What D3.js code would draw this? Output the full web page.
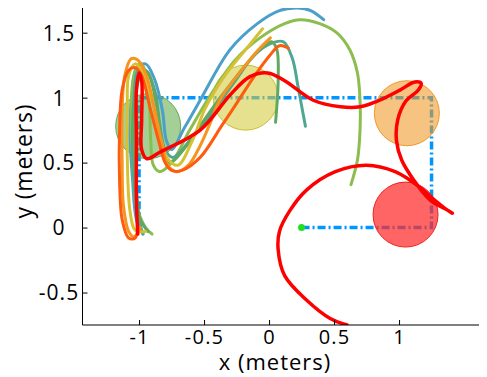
<!DOCTYPE html>
<html>
<head>
<meta charset="utf-8">
<script src="https://cdn.jsdelivr.net/npm/d3@7"></script>
<style>
body{margin:0;background:#fff;}
text{font-family:"Open Sans",sans-serif;fill:#000;}
</style>
</head>
<body>
<script>
// tick values on both axes
var xTicks = [-1, -0.5, 0, 0.5, 1];
var yTicks = [-0.5, 0, 0.5, 1, 1.5];

// reference route (dash-dot), starts at the green dot
var routeX = [0.25, 1.25, 1.25, -1, -1];
var routeY = [0, 0, 1, 1, 0];

// obstacles / targets
var circX = [-0.93, -0.18, 1.06, 1.05];
var circY = [0.78, 1.0, 0.88, 0.10];
var circR = [0.25, 0.25, 0.25, 0.25];
var circFill = ["#62ad4a", "#d2cc3c", "#f09a25", "#ff2a2a"];
var circEdge = ["#6aa84f", "#c9c030", "#ec9a2a", "#ee2020"];

// trajectories, drawn in this order
var trajColors = ["#4b9fc9", "#8cbd4f", "#4fa792", "#62a862", "#d6c132", "#f7941d", "#ff5b0f", "#ff0000"];

var blueX = [-0.97,-1.02,-1.05,-1.07,-1.05,-1.02,-0.95,-0.88,-0.82,-0.79,-0.75,-0.65,-0.53,-0.30,-0.09,0.08,0.22,0.32,0.42];
var blueY = [-0.05,0.06,0.37,0.75,1.06,1.23,1.26,1.14,0.90,0.67,0.60,0.77,0.98,1.37,1.57,1.67,1.69,1.67,1.60];

var lgreenX = [-0.90,-0.95,-1.02,-1.05,-1.06,-1.04,-0.99,-0.95,-0.92,-0.91,-0.89,-0.84,-0.75,-0.61,-0.45,-0.26,-0.07,0.12,0.24,0.39,0.52,0.62,0.68,0.70,0.70,0.68,0.63];
var lgreenY = [-0.05,0.00,0.17,0.52,0.90,1.17,1.26,1.20,0.94,0.67,0.48,0.43,0.50,0.75,1.02,1.29,1.46,1.57,1.60,1.57,1.50,1.37,1.19,0.98,0.75,0.52,0.33];

var tealX = [-0.97,-0.99,-1.03,-1.05,-1.04,-1.01,-0.95,-0.88,-0.84,-0.80,-0.74,-0.61,-0.45,-0.26,-0.11,0.02,0.11,0.18,0.22,0.25,0.28];
var tealY = [-0.05,0.02,0.25,0.60,0.98,1.20,1.21,1.06,0.79,0.60,0.54,0.67,0.87,1.13,1.33,1.42,1.43,1.30,1.10,0.94,0.78];

var greenX = [-0.93,-0.99,-1.02,-1.04,-1.03,-0.99,-0.94,-0.88,-0.84,-0.82,-0.76,-0.65,-0.49,-0.39,-0.18,-0.05,0.02,0.06,0.07,0.05];
var greenY = [-0.03,0.06,0.29,0.67,0.98,1.17,1.20,1.02,0.75,0.56,0.50,0.61,0.84,0.98,1.25,1.39,1.43,1.37,1.13,0.81];

var yellowX = [-0.95,-1.03,-1.07,-1.09,-1.09,-1.08,-1.03,-0.98,-0.90,-0.84,-0.78,-0.70,-0.59,-0.49,-0.34,-0.18,-0.05];
var yellowY = [-0.03,-0.02,0.13,0.52,0.90,1.17,1.26,1.21,0.98,0.71,0.53,0.48,0.67,0.92,1.17,1.37,1.53];

var orangeX = [-0.99,-1.04,-1.08,-1.12,-1.13,-1.13,-1.11,-1.06,-1.01,-0.94,-0.88,-0.82,-0.78,-0.71,-0.62,-0.53,-0.45,-0.38,-0.22,-0.08,0.01];
var orangeY = [0.00,-0.07,-0.03,0.17,0.52,0.90,1.17,1.30,1.29,1.16,0.90,0.63,0.48,0.43,0.48,0.63,0.81,0.98,1.20,1.37,1.46];

var oredX = [-1.01,-1.03,-1.08,-1.13,-1.15,-1.15,-1.13,-1.08,-1.03,-0.98,-0.92,-0.85,-0.80,-0.75,-0.67,-0.53,-0.36,-0.26,-0.11,0.01,0.08,0.15];
var oredY = [0.00,-0.08,-0.08,0.06,0.37,0.75,1.06,1.21,1.23,1.17,0.94,0.67,0.50,0.44,0.44,0.54,0.79,0.94,1.17,1.33,1.40,1.38];

var redX = [-1.01,-1.02,-1.02,-1.02,-1.00,-0.98,-0.98,-0.98,-0.94,-0.84,-0.53,-0.30,-0.15,-0.01,0.12,0.34,0.55,0.70,0.85,1.01,1.12,1.17,1.15,1.05,0.99,0.98,1.02,1.11,1.24,1.38,1.41,1.35,1.25,1.16,0.97,0.75,0.51,0.29,0.16,0.08,0.07,0.12,0.29,0.47,0.60];
var redY = [-0.05,0.21,0.67,1.06,1.19,1.13,0.83,0.60,0.53,0.58,0.75,1.02,1.16,1.19,1.13,0.98,0.93,0.93,0.98,1.06,1.12,1.11,1.06,0.97,0.83,0.67,0.52,0.37,0.21,0.13,0.11,0.15,0.23,0.31,0.43,0.48,0.43,0.29,0.13,-0.03,-0.17,-0.37,-0.56,-0.70,-0.75];

var trajX = [blueX, lgreenX, tealX, greenX, yellowX, orangeX, oredX, redX];
var trajY = [blueY, lgreenY, tealY, greenY, yellowY, orangeY, oredY, redY];
var trajW = [3, 3, 3, 3, 3, 3, 3, 3.5];

var startX = 0.25, startY = 0;

var W = 487, H = 377;
var pLeft = 82.5, pRight = 479, pTop = 8, pBottom = 325;//plot box in pixels

var svg = d3.select("body").append("svg")
    .attr("width", W)
    .attr("height", H);

var xScale = d3.scaleLinear().domain([-1.435, 1.615]).range([pLeft, pRight]);
var yScale = d3.scaleLinear().domain([-0.75, 1.69]).range([pBottom, pTop]);

svg.append("clipPath").attr("id", "plotclip")
    .append("rect").attr("x", pLeft).attr("y", pTop)
    .attr("width", pRight - pLeft).attr("height", pBottom - pTop);

var plot = svg.append("g").attr("clip-path", "url(#plotclip)");

function pts(xs, ys){//zip two arrays into points
    var out = [];
    for(var i = 0; i < xs.length; i++) out.push([xs[i], ys[i]]);
    return out;
}

var straight = d3.line().x(function(d){return xScale(d[0]);}).y(function(d){return yScale(d[1]);});
var smooth = d3.line().x(function(d){return xScale(d[0]);}).y(function(d){return yScale(d[1]);})
    .curve(d3.curveCatmullRom.alpha(0.5));

// route
plot.append("path")
    .attr("d", straight(pts(routeX, routeY)))
    .attr("fill", "none")
    .attr("stroke", "#0096ff")
    .attr("stroke-width", 3.5)
    .attr("stroke-dasharray", "8,3,2,3");

// circles over the route
for(var c = 0; c < circX.length; c++){
    plot.append("circle")
        .attr("cx", xScale(circX[c]))
        .attr("cy", yScale(circY[c]))
        .attr("r", xScale(circR[c]) - xScale(0))
        .attr("fill", circFill[c])
        .attr("fill-opacity", c == 3 ? 0.72 : 0.58)
        .attr("stroke", circEdge[c])
        .attr("stroke-width", 1);
}

// trajectories
for(var t = 0; t < trajX.length; t++){
    plot.append("path")
        .attr("d", smooth(pts(trajX[t], trajY[t])))
        .attr("fill", "none")
        .attr("stroke", trajColors[t])
        .attr("stroke-width", trajW[t])
        .attr("stroke-linecap", "round")
        .attr("stroke-linejoin", "round");
}

// start dot
plot.append("circle")
    .attr("cx", xScale(startX))
    .attr("cy", yScale(startY))
    .attr("r", 3.5)
    .attr("fill", "#22dd22");

// axes, ticks pointing inward
var fmt = function(d){ return String(d); };
var xAxis = d3.axisTop(xScale).tickValues(xTicks).tickSize(5).tickFormat(fmt);
var yAxis = d3.axisRight(yScale).tickValues(yTicks).tickSize(5).tickFormat(fmt);

var gx = svg.append("g").attr("transform", "translate(0," + pBottom + ")").call(xAxis);
var gy = svg.append("g").attr("transform", "translate(" + pLeft + ",0)").call(yAxis);

gx.select(".domain").attr("d", "M" + pLeft + ",0H" + pRight).attr("stroke", "#000");
gy.select(".domain").attr("d", "M0," + pTop + "V" + pBottom).attr("stroke", "#000");
gx.selectAll(".tick line").attr("stroke", "#000");
gy.selectAll(".tick line").attr("stroke", "#000");

gx.selectAll(".tick text")
    .attr("y", 19).attr("dy", 0)
    .attr("text-anchor", "middle")
    .style("font-size", "20px")
    .style("letter-spacing", "1.2px")
    .style("font-family", "'Open Sans', sans-serif");

gy.selectAll(".tick text")
    .attr("x", 59 - pLeft).attr("dy", "0.35em")
    .attr("text-anchor", "middle")
    .style("font-size", "21px")
    .style("letter-spacing", "1px")
    .style("font-family", "'Open Sans', sans-serif");

svg.append("text")
    .attr("x", 275).attr("y", 370)
    .attr("text-anchor", "middle")
    .style("font-size", "22px")
    .style("letter-spacing", "1px")
    .text("x (meters)");

svg.append("text")
    .attr("transform", "translate(32,161) rotate(-90)")
    .attr("text-anchor", "middle")
    .style("font-size", "23px")
    .style("letter-spacing", "0.8px")
    .text("y (meters)");
</script>
</body>
</html>
